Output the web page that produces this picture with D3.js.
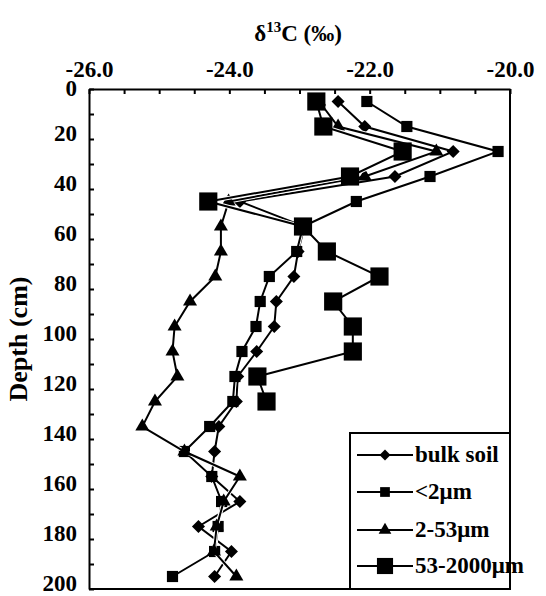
<!DOCTYPE html>
<html>
<head>
<meta charset="utf-8">
<script src="https://cdn.jsdelivr.net/npm/d3@7"></script>
<style>
  html, body { margin: 0; padding: 0; background: #fff; }
  svg { display: block; }
  text { font-family: "Liberation Serif", "Times New Roman", serif; font-weight: bold; fill: #000; }
</style>
</head>
<body>
<div id="chart"></div>
<script>
// ---- data ----
const depths = [5, 15, 25, 35, 45, 55, 65, 75, 85, 95, 105, 115, 125, 135, 145, 155, 165, 175, 185, 195];
const bulkSoil = [-22.45, -22.07, -20.81, -21.64, -23.85, -22.93, -23.02, -23.08, -23.33, -23.36, -23.61, -23.88, -23.90, -24.15, -24.21, -24.25, -23.85, -24.44, -23.97, -24.21];
const clay = [-22.04, -21.47, -20.17, -21.14, -22.19, -22.95, -23.04, -23.43, -23.56, -23.62, -23.82, -23.92, -23.95, -24.28, -24.64, -24.25, -24.11, -24.16, -24.21, -24.81];
const silt = [-22.72, -22.45, -21.05, -22.07, -24.01, -24.12, -24.12, -24.20, -24.56, -24.78, -24.81, -24.74, -25.06, -25.24, -24.64, -23.85, -24.08, -24.18, -24.22, -23.90];
const sandDepths = [5, 15, 25, 35, 45, 55, 65, 75, 85, 95, 105, 115, 125];
const sand = [-22.76, -22.66, -21.53, -22.28, -24.30, -22.95, -22.61, -21.86, -22.52, -22.24, -22.24, -23.60, -23.47];
const seriesNames = ["bulk soil", "<2\u03bcm", "2-53\u03bcm", "53-2000\u03bcm"];
const xTickLabels = [-26, -24, -22, -20];
const yTickLabels = [0, 20, 40, 60, 80, 100, 120, 140, 160, 180, 200];

// ---- layout ----
const W = 546, H = 596;
const pL = 89, pR = 510, pT = 89, pB = 589;

const svg = d3.select("#chart").append("svg").attr("width", W).attr("height", H);

const x = d3.scaleLinear().domain([-26, -20]).range([pL, pR]);
const y = d3.scaleLinear().domain([0, 200]).range([pT, pB]);

// top axis (ticks inside every 0.5)
const xAxis = d3.axisTop(x)
  .tickValues(d3.range(-26, -19.99, 0.5))
  .tickSizeInner(-5).tickSizeOuter(0).tickPadding(12)
  .tickFormat(d => xTickLabels.some(v => Math.abs(v - d) < 1e-6) ? d.toFixed(1) : "");
const gx = svg.append("g").attr("transform", `translate(0,${pT})`).call(xAxis);
gx.selectAll("text").style("font-size", "23px");

// left axis (ticks inside every 10)
const yAxis = d3.axisLeft(y)
  .tickValues(d3.range(0, 201, 10))
  .tickSizeInner(-5).tickSizeOuter(0).tickPadding(12)
  .tickFormat(d => yTickLabels.includes(d) ? d : "");
const gy = svg.append("g").attr("transform", `translate(${pL},0)`).call(yAxis);
gy.selectAll("text").style("font-size", "23px").attr("dy", "0.05em");
// the "0" label sits just under the top tick labels
gy.selectAll(".tick text").filter(d => d === 0).attr("dy", "0.3em");

[gx, gy].forEach(g => {
  g.selectAll("path.domain").attr("stroke", "#000").attr("stroke-width", 2);
  g.selectAll(".tick line").attr("stroke", "#000").attr("stroke-width", 2);
});

// right and bottom frame
svg.append("line").attr("x1", pR).attr("x2", pR).attr("y1", pT).attr("y2", pB)
  .attr("stroke", "#000").attr("stroke-width", 2);
svg.append("line").attr("x1", pL).attr("x2", pR).attr("y1", pB).attr("y2", pB)
  .attr("stroke", "#000").attr("stroke-width", 2);

// titles
const t = svg.append("text").attr("x", 298).attr("y", 41).attr("text-anchor", "middle").style("font-size", "23px");
t.append("tspan").text("\u03b4");
t.append("tspan").attr("dy", -9).style("font-size", "15px").text("13");
t.append("tspan").attr("dy", 9).text("C (\u2030)");

svg.append("text")
  .attr("transform", `translate(27,${(pT + pB) / 2}) rotate(-90)`)
  .attr("text-anchor", "middle").style("font-size", "26px").text("Depth (cm)");

// ---- series ----
const series = [
  { name: seriesNames[0], vals: bulkSoil, deps: depths, type: "diamond", size: 85, lsize: 60 },
  { name: seriesNames[1], vals: clay, deps: depths, type: "square", size: 125, lsize: 95 },
  { name: seriesNames[2], vals: silt, deps: depths, type: "triangle", size: 85, lsize: 70 },
  { name: seriesNames[3], vals: sand, deps: sandDepths, type: "square", size: 330, lsize: 260 }
];

function symPath(type, size) {
  if (type === "triangle") return d3.symbol().type(d3.symbolTriangle).size(size)();
  return d3.symbol().type(d3.symbolSquare).size(size)();
}
function symTransform(type, cx, cy) {
  return type === "diamond" ? `translate(${cx},${cy}) rotate(45)` : `translate(${cx},${cy})`;
}

const line = d3.line().x(d => x(d.v)).y(d => y(d.d));

series.forEach(s => {
  const pts = s.vals.map((v, i) => ({ v, d: s.deps[i] }));
  const g = svg.append("g");
  // thin white casing, then the black line
  g.append("path").datum(pts).attr("d", line)
    .attr("fill", "none").attr("stroke", "#fff").attr("stroke-width", 4);
  g.append("path").datum(pts).attr("d", line)
    .attr("fill", "none").attr("stroke", "#000").attr("stroke-width", 2);
  g.selectAll("path.m").data(pts).enter().append("path").attr("class", "m")
    .attr("d", symPath(s.type, s.size))
    .attr("transform", d => symTransform(s.type, x(d.v), y(d.d)))
    .attr("fill", "#000");
});

// ---- legend ----
const lg = svg.append("g");
lg.append("rect").attr("x", 350).attr("y", 433).attr("width", pR - 350).attr("height", pB - 433)
  .attr("fill", "#fff").attr("stroke", "#000").attr("stroke-width", 2);
const rowY = [455, 492, 530, 566];
series.forEach((s, i) => {
  const cy = rowY[i];
  lg.append("line").attr("x1", 357).attr("x2", 413).attr("y1", cy).attr("y2", cy)
    .attr("stroke", "#000").attr("stroke-width", 2);
  lg.append("path").attr("d", symPath(s.type, s.lsize))
    .attr("transform", symTransform(s.type, 385, cy)).attr("fill", "#000");
  lg.append("text").attr("x", 415).attr("y", cy + 7).style("font-size", "23px").text(s.name);
});
</script>
</body>
</html>
